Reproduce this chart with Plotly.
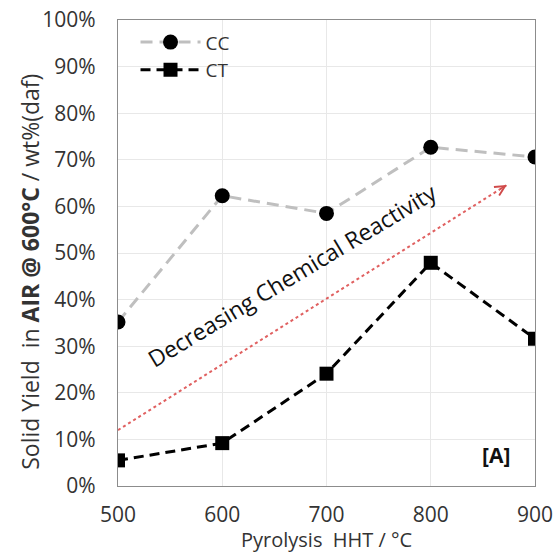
import plotly.graph_objects as go

hht = [500, 600, 700, 800, 900]
cc = [35.2, 62.3, 58.5, 72.7, 70.6]
ct = [5.5, 9.2, 24.1, 47.9, 31.6]
x_ticks = [500, 600, 700, 800, 900]
y_ticks = [0, 10, 20, 30, 40, 50, 60, 70, 80, 90, 100]
y_labels = [f"{v}%" for v in y_ticks]
trend_x = [500, 873]
trend_y = [12.0, 64.6]

FONT = "Open Sans"
fig = go.Figure()
fig.add_trace(go.Scatter(
    x=hht, y=cc, name="CC", mode="lines+markers",
    line=dict(color="#bfbfbf", width=3, dash="12px,7px"),
    marker=dict(symbol="circle", size=15, color="black"),
))
fig.add_trace(go.Scatter(
    x=hht, y=ct, name="CT", mode="lines+markers",
    line=dict(color="black", width=3, dash="10px,6px"),
    marker=dict(symbol="square", size=14, color="black"),
))
fig.add_trace(go.Scatter(
    x=trend_x, y=trend_y, mode="lines", showlegend=False, hoverinfo="skip",
    line=dict(color="#e06060", width=2, dash="dot"),
))
fig.add_annotation(
    x=trend_x[1], y=trend_y[1], ax=trend_x[1] - 8, ay=trend_y[1] - 1.1,
    xref="x", yref="y", axref="x", ayref="y", text="", showarrow=True,
    arrowhead=5, arrowsize=1.3, arrowwidth=1.5, arrowcolor="#d04a4a",
)
fig.add_annotation(
    x=667, y=45.3, xref="x", yref="y", text="Decreasing Chemical Reactivity",
    showarrow=False, textangle=-31,
    font=dict(family=FONT, size=23, color="#111"),
)
fig.add_annotation(
    x=863, y=6.6, xref="x", yref="y", text="<b>[A]</b>",
    showarrow=False, font=dict(family=FONT, size=21, color="#111"),
)
fig.add_annotation(
    x=0.5, y=-0.114, xref="paper", yref="paper", text="Pyrolysis  HHT / °C",
    showarrow=False, xanchor="center", yanchor="middle",
    font=dict(family=FONT, size=20, color="#333"),
)
fig.add_annotation(
    x=-0.213, y=0.46, xref="paper", yref="paper",
    text="Solid Yield  in <b>AIR @ 600°C</b> / wt%(daf)", textangle=-90,
    showarrow=False, xanchor="center", yanchor="middle",
    font=dict(family=FONT, size=23, color="#333"),
)

fig.update_layout(
    width=555, height=552,
    margin=dict(l=118, r=20, t=20, b=66),
    paper_bgcolor="white", plot_bgcolor="white",
    font=dict(family=FONT, size=20, color="#333"),
    legend=dict(x=0.042, y=0.993, xanchor="left", yanchor="top",
                bgcolor="rgba(0,0,0,0)", font=dict(size=19, color="#333"),
                itemwidth=60, tracegroupgap=0),
    showlegend=True,
)
fig.update_xaxes(
    range=[500, 900], tickvals=x_ticks, ticks="", automargin=False,
    showgrid=True, gridcolor="#e8e8e8", gridwidth=1,
    showline=True, linecolor="#8c8c8c", linewidth=1.2, mirror=True,
    ticklabelstandoff=10, zeroline=False, tickfont=dict(size=21),
)
fig.update_yaxes(
    range=[0, 100], tickvals=y_ticks, ticktext=y_labels, ticks="", automargin=False,
    showgrid=True, gridcolor="#e8e8e8", gridwidth=1,
    showline=True, linecolor="#8c8c8c", linewidth=1.2, mirror=True,
    ticklabelstandoff=17, zeroline=False, tickfont=dict(size=21),
)
fig.write_html("out.html", config={"displayModeBar": False},
               post_script="document.body.style.margin='0px';")
